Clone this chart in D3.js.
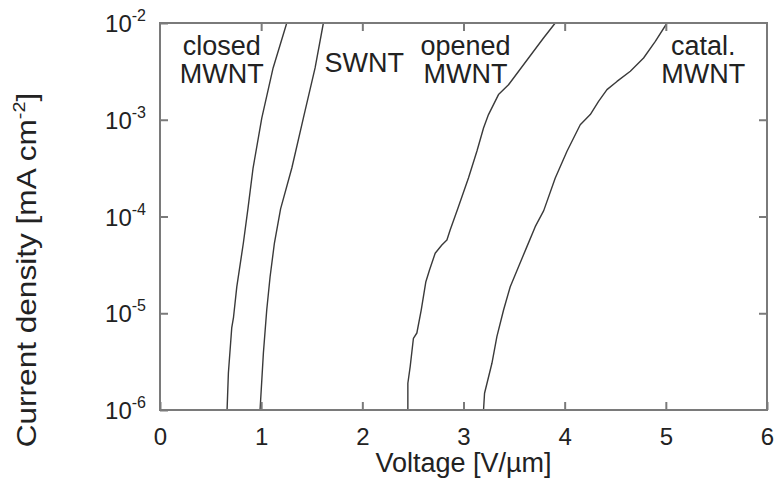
<!DOCTYPE html>
<html>
<head>
<meta charset="utf-8">
<script src="https://cdn.jsdelivr.net/npm/d3@7"></script>
<style>
  html, body { margin: 0; padding: 0; background: #fff; }
  svg { display: block; font-family: "Liberation Sans", Arial, Helvetica, sans-serif; }
</style>
</head>
<body>
<svg id="chart" width="774" height="481"></svg>
<script>
// Field-emission J–E curves for four nanotube emitters
// Voltage in V/µm, current density in mA cm^-2

const closedV = [0.663, 0.676, 0.709, 0.727, 0.759, 0.824, 0.870, 0.920, 1.006, 1.118, 1.253];
const closedJ = [1.00e-6, 2.41e-6, 7.05e-6, 9.14e-6, 1.87e-5, 5.32e-5, 1.22e-4, 3.17e-4, 1.04e-3, 3.43e-3, 1.0e-2];

const swntV = [0.989, 1.022, 1.055, 1.088, 1.131, 1.192, 1.303, 1.417, 1.533, 1.615];
const swntJ = [1.0e-6, 3.88e-6, 1.08e-5, 2.37e-5, 5.32e-5, 1.20e-4, 3.17e-4, 1.04e-3, 3.43e-3, 1.0e-2];

const openedV = [2.450, 2.450, 2.473, 2.505, 2.539, 2.582, 2.628, 2.664, 2.720, 2.786, 2.836,
                 2.868, 2.943, 3.049, 3.133, 3.198, 3.247, 3.346, 3.445, 3.643, 3.791, 3.907];
const openedJ = [1.0e-6, 1.89e-6, 2.81e-6, 5.51e-6, 6.25e-6, 1.08e-5, 2.12e-5, 2.80e-5, 4.17e-5, 5.07e-5, 5.71e-5,
                 7.24e-5, 1.20e-4, 2.50e-4, 4.75e-4, 8.22e-4, 1.13e-3, 1.82e-3, 2.30e-3, 4.35e-3, 7.00e-3, 1.0e-2];

const catalV = [3.198, 3.208, 3.281, 3.330, 3.396, 3.462, 3.544, 3.627, 3.709, 3.793, 3.907,
                4.023, 4.154, 4.253, 4.335, 4.418, 4.517, 4.649, 4.780, 4.896, 5.012];
const catalJ = [1.0e-6, 1.49e-6, 3.04e-6, 5.73e-6, 1.08e-5, 1.88e-5, 3.03e-5, 4.88e-5, 7.85e-5, 1.15e-4, 2.50e-4,
                4.72e-4, 8.89e-4, 1.13e-3, 1.55e-3, 2.05e-3, 2.49e-3, 3.17e-3, 4.35e-3, 6.47e-3, 1.0e-2];

const xTicks = [0, 1, 2, 3, 4, 5, 6];
const yTicks = [1e-6, 1e-5, 1e-4, 1e-3, 1e-2];
const yTickExp = ["-6", "-5", "-4", "-3", "-2"];

// Curve labels: one or two lines each, placed in data space (V, J)
const labelLines = [["closed", "MWNT"], ["SWNT"], ["opened", "MWNT"], ["catal.", "MWNT"]];
const labelV = [0.61, 2.02, 3.02, 5.37];
const labelJ = [4.67e-3, 3.12e-3, 4.67e-3, 4.67e-3];

const series = [
  { v: closedV, j: closedJ },
  { v: swntV, j: swntJ },
  { v: openedV, j: openedJ },
  { v: catalV, j: catalJ }
];

const svg = d3.select("#chart");
const margin = { left: 160, right: 7, top: 23, bottom: 71 };
const W = 774, H = 481;
const x0 = margin.left, x1 = W - margin.right, y0 = H - margin.bottom, y1 = margin.top;

const x = d3.scaleLinear().domain([0, 6]).range([x0, x1]);
const y = d3.scaleLog().domain([1e-6, 1e-2]).range([y0, y1]);

const frameColor = "#7a7a7a";
const tickLen = 8;

// Curves
const line = d3.line().x(d => x(d[0])).y(d => y(d[1]));
const g = svg.append("g");
series.forEach(s => {
  const pts = s.v.map((v, i) => [v, s.j[i]]);
  g.append("path")
    .attr("d", line(pts))
    .attr("fill", "none")
    .attr("stroke", "#3a3a3a")
    .attr("stroke-width", 1.4)
    .attr("stroke-linejoin", "round");
});

// Axes (inward ticks on all four sides)
const axB = d3.axisBottom(x).tickValues(xTicks).tickSize(-tickLen).tickPadding(tickLen + 10).tickFormat(d3.format("d"));
const axT = d3.axisTop(x).tickValues(xTicks.slice(1, -1)).tickSize(-tickLen).tickFormat("");
const axL = d3.axisLeft(y).tickValues(yTicks).tickSize(-tickLen).tickFormat("");
const axR = d3.axisRight(y).tickValues(yTicks.slice(1, -1)).tickSize(-tickLen).tickFormat("");

function styleAxis(sel) {
  sel.select(".domain").remove();
  sel.selectAll(".tick line").attr("stroke", frameColor).attr("stroke-width", 2);
  sel.selectAll("text").attr("fill", "#222").attr("font-size", 24)
     .attr("font-family", "'Liberation Sans', Arial, Helvetica, sans-serif");
}

const gB = svg.append("g").attr("transform", `translate(0,${y0})`).call(axB).call(styleAxis);
gB.selectAll(".tick text").attr("dy", "0.71em");
svg.append("g").attr("transform", `translate(0,${y1})`).call(axT).call(styleAxis);
svg.append("g").attr("transform", `translate(${x0},0)`).call(axL).call(styleAxis);
svg.append("g").attr("transform", `translate(${x1},0)`).call(axR).call(styleAxis);

// Frame
svg.append("rect")
  .attr("x", x0).attr("y", y1)
  .attr("width", x1 - x0).attr("height", y0 - y1)
  .attr("fill", "none").attr("stroke", frameColor).attr("stroke-width", 2);

// Log tick labels as 10 with a superscript exponent
yTicks.forEach((t, i) => {
  const txt = svg.append("text")
    .attr("x", x0 - 14)
    .attr("y", y(t) + 9)
    .attr("text-anchor", "end")
    .attr("font-size", 24)
    .attr("fill", "#222");
  txt.append("tspan").text("10");
  txt.append("tspan").attr("dy", -11).attr("font-size", 16).text(yTickExp[i]);
});

// Curve labels
labelLines.forEach((lines, i) => {
  const t = svg.append("text")
    .attr("x", x(labelV[i]))
    .attr("y", y(labelJ[i]))
    .attr("text-anchor", "middle")
    .attr("font-size", 27)
    .attr("fill", "#222");
  lines.forEach((s, k) => {
    t.append("tspan").attr("x", x(labelV[i])).attr("dy", k === 0 ? 0 : 28).text(s);
  });
});

// Axis titles
svg.append("text")
  .attr("x", (x0 + x1) / 2)
  .attr("y", 472)
  .attr("text-anchor", "middle")
  .attr("font-size", 27)
  .attr("fill", "#222")
  .text("Voltage [V/\u00b5m]");

const yt = svg.append("text")
  .attr("transform", `translate(36,270) rotate(-90) scale(1.17,1)`)
  .attr("text-anchor", "middle")
  .attr("font-size", 27)
  .attr("fill", "#222");
yt.append("tspan").text("Current density [mA cm");
yt.append("tspan").attr("dy", -11).attr("font-size", 17).text("-2");
yt.append("tspan").attr("dy", 11).text("]");
</script>
</body>
</html>
